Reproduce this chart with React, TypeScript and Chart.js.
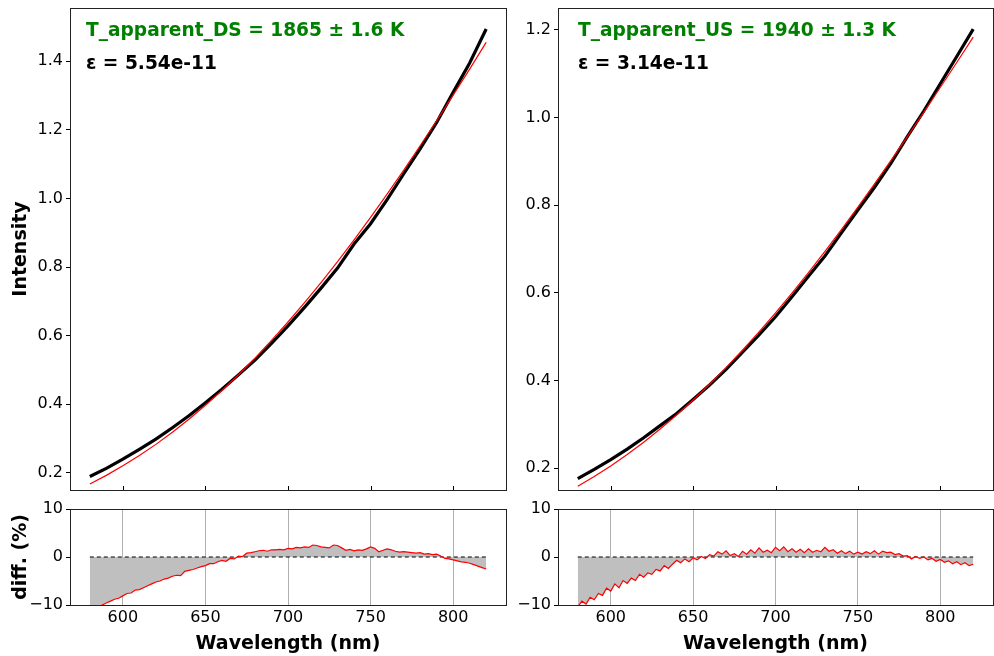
import React, { useEffect, useRef } from "react";
import { Chart, registerables } from "chart.js";

Chart.register(...registerables);

const FONT = "'DejaVu Sans', sans-serif";

// Smooth fit curves and measured data (main panels), every 10 nm
const WL_MAIN = [580, 590, 600, 610, 620, 630, 640, 650, 660, 670, 680, 690, 700, 710, 720, 730, 740, 750, 760, 770, 780, 790, 800, 810, 820];

const DS_FIT = [0.1675, 0.1926, 0.2204, 0.2504, 0.283, 0.3183, 0.3563, 0.3969, 0.4402, 0.486, 0.5346, 0.5859, 0.6397, 0.6959, 0.7546, 0.8158, 0.8791, 0.9446, 1.0123, 1.0818, 1.1535, 1.2264, 1.3012, 1.3768, 1.4549];
const DS_DATA = [0.1893, 0.2131, 0.2398, 0.2687, 0.2982, 0.3316, 0.3662, 0.4046, 0.4438, 0.4855, 0.5288, 0.5772, 0.6284, 0.6823, 0.7384, 0.7967, 0.867, 0.9261, 0.9964, 1.0711, 1.1443, 1.2215, 1.3091, 1.3949, 1.4937];

const US_FIT = [0.1585, 0.1808, 0.205, 0.231, 0.2591, 0.2892, 0.3213, 0.3553, 0.3913, 0.4292, 0.469, 0.5108, 0.5541, 0.5994, 0.646, 0.6944, 0.7442, 0.7954, 0.8479, 0.9015, 0.9565, 1.0119, 1.0686, 1.1257, 1.1837];
const US_DATA = [0.1761, 0.1972, 0.2195, 0.2434, 0.2693, 0.2969, 0.3245, 0.3567, 0.3897, 0.4254, 0.4648, 0.5037, 0.5454, 0.5911, 0.6377, 0.6841, 0.7368, 0.7891, 0.8403, 0.8952, 0.9565, 1.0149, 1.0772, 1.1394, 1.2017];

// Residuals (%), every 2.5 nm
const WL_DIFF = [
  580, 582.5, 585, 587.5, 590, 592.5, 595, 597.5, 600, 602.5, 605, 607.5,
  610, 612.5, 615, 617.5, 620, 622.5, 625, 627.5, 630, 632.5, 635, 637.5,
  640, 642.5, 645, 647.5, 650, 652.5, 655, 657.5, 660, 662.5, 665, 667.5,
  670, 672.5, 675, 677.5, 680, 682.5, 685, 687.5, 690, 692.5, 695, 697.5,
  700, 702.5, 705, 707.5, 710, 712.5, 715, 717.5, 720, 722.5, 725, 727.5,
  730, 732.5, 735, 737.5, 740, 742.5, 745, 747.5, 750, 752.5, 755, 757.5,
  760, 762.5, 765, 767.5, 770, 772.5, 775, 777.5, 780, 782.5, 785, 787.5,
  790, 792.5, 795, 797.5, 800, 802.5, 805, 807.5, 810, 812.5, 815, 817.5, 820,
];

const DS_DIFF = [
  -11.8, -11.0, -10.6, -10.0, -9.6, -9.2, -8.8, -8.6, -8.1, -7.6, -7.5, -6.9,
  -6.8, -6.4, -6.0, -5.6, -5.2, -5.0, -4.6, -4.4, -4.0, -3.8, -3.9, -3.0,
  -2.8, -2.6, -2.3, -2.0, -1.8, -1.4, -1.4, -1.0, -0.7, -0.9, -0.3, -0.4,
  0.2, 0.1, 0.8, 0.9, 1.1, 1.3, 1.4, 1.2, 1.5, 1.5, 1.6, 1.5,
  1.8, 1.7, 2.0, 1.9, 2.1, 2.0, 2.5, 2.4, 2.1, 2.0, 1.9, 2.5,
  2.4, 1.9, 1.4, 1.6, 1.3, 1.5, 1.4, 1.7, 2.1, 1.8, 1.1, 1.4,
  1.7, 1.5, 1.2, 1.0, 1.1, 1.0, 0.9, 0.8, 0.9, 0.6, 0.7, 0.5,
  0.6, 0.2, -0.3, -0.4, -0.6, -0.8, -1.0, -1.1, -1.3, -1.6, -1.9, -2.2, -2.5,
];

const US_DIFF = [
  -10.4, -9.2, -9.8, -8.4, -8.9, -7.6, -8.0, -6.5, -7.1, -5.6, -6.4, -4.9,
  -5.5, -4.4, -4.9, -3.6, -4.2, -3.3, -3.6, -2.6, -2.9, -1.8, -2.4, -1.5,
  -0.7, -1.2, -0.4, -1.0, -0.2, -0.6, 0.1, -0.3, 0.5, 0.2, 1.1, 0.6,
  1.3, 0.3, 0.7, 0.1, 1.2, 0.6, 1.5, 0.8, 1.9, 1.0, 1.4, 0.9,
  2.0, 1.3, 2.1, 1.1, 1.7, 1.0, 1.6, 0.9, 1.7, 1.0, 1.4, 1.1,
  2.0, 1.2, 1.5, 0.8, 1.3, 0.7, 1.2, 0.6, 1.0, 0.6, 1.1, 0.7,
  1.3, 0.6, 1.2, 0.9, 1.0, 0.5, 0.7, 0.2, 0.3, -0.4, 0.1, -0.3,
  0.0, -0.6, -0.3, -0.9, -0.5, -1.1, -0.8, -1.4, -1.0, -1.6, -1.2, -1.8, -1.5,
];

const ZERO_X = [580, 820];
const ZERO_Y = [0, 0];

const X_TICKS = [600, 650, 700, 750, 800];
const DS_Y_TICKS = [0.2, 0.4, 0.6, 0.8, 1.0, 1.2, 1.4];
const US_Y_TICKS = [0.2, 0.4, 0.6, 0.8, 1.0, 1.2];
const DIFF_TICKS = [-10, 0, 10];

const DS_LABEL = "T_apparent_DS = 1865 ± 1.6 K";
const DS_EPS = "ε = 5.54e-11";
const US_LABEL = "T_apparent_US = 1940 ± 1.3 K";
const US_EPS = "ε = 3.14e-11";

const pts = (xs: number[], ys: number[]) => xs.map((x, i) => ({ x, y: ys[i] }));

type Line = { text: string; color: string; y: number };

function makeFrame(inwardTicks: boolean, textX: number, lines: Line[]) {
  return {
    id: "frame",
    afterDraw(chart: any) {
      const { ctx, chartArea: a, scales } = chart;
      ctx.save();
      ctx.strokeStyle = "#000";
      ctx.lineWidth = 1;
      if (inwardTicks) {
        for (const v of X_TICKS) {
          const x = Math.round(scales.x.getPixelForValue(v)) + 0.5;
          ctx.beginPath();
          ctx.moveTo(x, a.bottom);
          ctx.lineTo(x, a.bottom - 4);
          ctx.stroke();
        }
      }
      ctx.strokeStyle = "#222";
      ctx.strokeRect(Math.round(a.left) + 0.5, Math.round(a.top) + 0.5, Math.round(a.right - a.left), Math.round(a.bottom - a.top));
      ctx.font = `bold 18.6px ${FONT}`;
      ctx.textBaseline = "alphabetic";
      ctx.textAlign = "left";
      for (const l of lines) {
        ctx.fillStyle = l.color;
        ctx.fillText(l.text, a.left + textX, l.y);
      }
      ctx.restore();
    },
  };
}

const noPad = (s: any) => {
  s.paddingTop = 0;
  s.paddingBottom = 0;
  s.paddingLeft = 0;
  s.paddingRight = 0;
};

const tickFont = { family: FONT, size: 16 };
const titleFont = { family: FONT, size: 19, weight: "bold" as const };

function mainConfig(fit: number[], data: number[], yMin: number, yMax: number, yTicks: number[], yTitle: string, axisWidth: number, padRight: number, textX: number, lines: Line[]): any {
  return {
    type: "line",
    data: {
      datasets: [
        { data: pts(WL_MAIN, fit), borderColor: "#ff0000", borderWidth: 1.2, pointRadius: 0, fill: false },
        { data: pts(WL_MAIN, data), borderColor: "#000000", borderWidth: 3.2, pointRadius: 0, fill: false },
      ],
    },
    options: {
      animation: false,
      responsive: false,
      events: [],
      layout: { autoPadding: false, padding: { top: 8, right: padRight, bottom: 6, left: 0 } },
      plugins: { legend: { display: false }, tooltip: { enabled: false } },
      scales: {
        x: { type: "linear", min: 568, max: 832, display: false },
        y: {
          type: "linear",
          min: yMin,
          max: yMax,
          afterBuildTicks: (s: any) => { s.ticks = yTicks.map((v) => ({ value: v })); },
          afterFit: (s: any) => { s.width = axisWidth; noPad(s); },
          grid: { drawOnChartArea: false, drawTicks: true, tickLength: 4, color: "#000" },
          border: { display: false },
          ticks: { font: tickFont, color: "#000", padding: 3, callback: (v: any) => Number(v).toFixed(1) },
          title: { display: !!yTitle, text: yTitle, font: titleFont, color: "#000", padding: { top: 10, bottom: 0 } },
        },
      },
    },
    plugins: [makeFrame(true, textX, lines)],
  };
}

function diffConfig(diff: number[], yTitle: string, axisWidth: number, padRight: number): any {
  return {
    type: "line",
    data: {
      datasets: [
        { data: pts(WL_DIFF, diff), borderColor: "#ff0000", borderWidth: 1.2, pointRadius: 0, fill: { value: 0 }, backgroundColor: "#bfbfbf" },
        { data: pts(ZERO_X, ZERO_Y), borderColor: "#000000", borderWidth: 1, borderDash: [4, 3], pointRadius: 0, fill: false },
      ],
    },
    options: {
      animation: false,
      responsive: false,
      events: [],
      layout: { autoPadding: false, padding: { top: 9, right: padRight, bottom: 0, left: 0 } },
      plugins: { legend: { display: false }, tooltip: { enabled: false }, filler: { drawTime: "beforeDatasetsDraw" } },
      scales: {
        x: {
          type: "linear",
          min: 568,
          max: 832,
          afterBuildTicks: (s: any) => { s.ticks = X_TICKS.map((v) => ({ value: v })); },
          afterFit: (s: any) => { s.height = 51; noPad(s); },
          grid: { drawOnChartArea: true, drawTicks: false, color: "#b0b0b0", lineWidth: 1 },
          border: { display: false },
          ticks: { font: tickFont, color: "#000", padding: 3, maxRotation: 0, callback: (v: any) => String(v) },
          title: { display: true, text: "Wavelength (nm)", font: titleFont, color: "#000", padding: { top: 0, bottom: 1 } },
        },
        y: {
          type: "linear",
          min: -10,
          max: 10,
          afterBuildTicks: (s: any) => { s.ticks = DIFF_TICKS.map((v) => ({ value: v })); },
          afterFit: (s: any) => { s.width = axisWidth; noPad(s); },
          grid: { drawOnChartArea: false, drawTicks: true, tickLength: 4, color: "#000" },
          border: { display: false },
          ticks: { font: tickFont, color: "#000", padding: 3, callback: (v: any) => (v < 0 ? "\u2212" + Math.abs(v) : String(v)) },
          title: { display: !!yTitle, text: yTitle, font: titleFont, color: "#000", padding: { top: 10, bottom: 0 } },
        },
      },
    },
    plugins: [makeFrame(false, 0, [])],
  };
}

export default function App() {
  const r1 = useRef<HTMLCanvasElement>(null);
  const r2 = useRef<HTMLCanvasElement>(null);
  const r3 = useRef<HTMLCanvasElement>(null);
  const r4 = useRef<HTMLCanvasElement>(null);

  useEffect(() => {
    const charts = [
      new Chart(r1.current!, mainConfig(DS_FIT, DS_DATA, 0.15, 1.555, DS_Y_TICKS, "Intensity", 70, 6, 16, [
        { text: DS_LABEL, color: "#008000", y: 36 },
        { text: DS_EPS, color: "#000000", y: 69 },
      ])),
      new Chart(r2.current!, mainConfig(US_FIT, US_DATA, 0.15, 1.25, US_Y_TICKS, "", 58, 1, 20, [
        { text: US_LABEL, color: "#008000", y: 36 },
        { text: US_EPS, color: "#000000", y: 69 },
      ])),
      new Chart(r3.current!, diffConfig(DS_DIFF, "diff. (%)", 70, 6)),
      new Chart(r4.current!, diffConfig(US_DIFF, "", 58, 1)),
    ];
    return () => charts.forEach((c) => c.destroy());
  }, []);

  const cs = (left: number, top: number): React.CSSProperties => ({ position: "absolute", left, top, display: "block" });

  return (
    <div style={{ position: "fixed", left: 0, top: 0, width: 994, height: 656, background: "#fff", overflow: "hidden" }}>
      <canvas ref={r1} width={512} height={496} style={cs(0, 0)} />
      <canvas ref={r2} width={494} height={496} style={cs(500, 0)} />
      <canvas ref={r3} width={512} height={156} style={cs(0, 500)} />
      <canvas ref={r4} width={494} height={156} style={cs(500, 500)} />
    </div>
  );
}
